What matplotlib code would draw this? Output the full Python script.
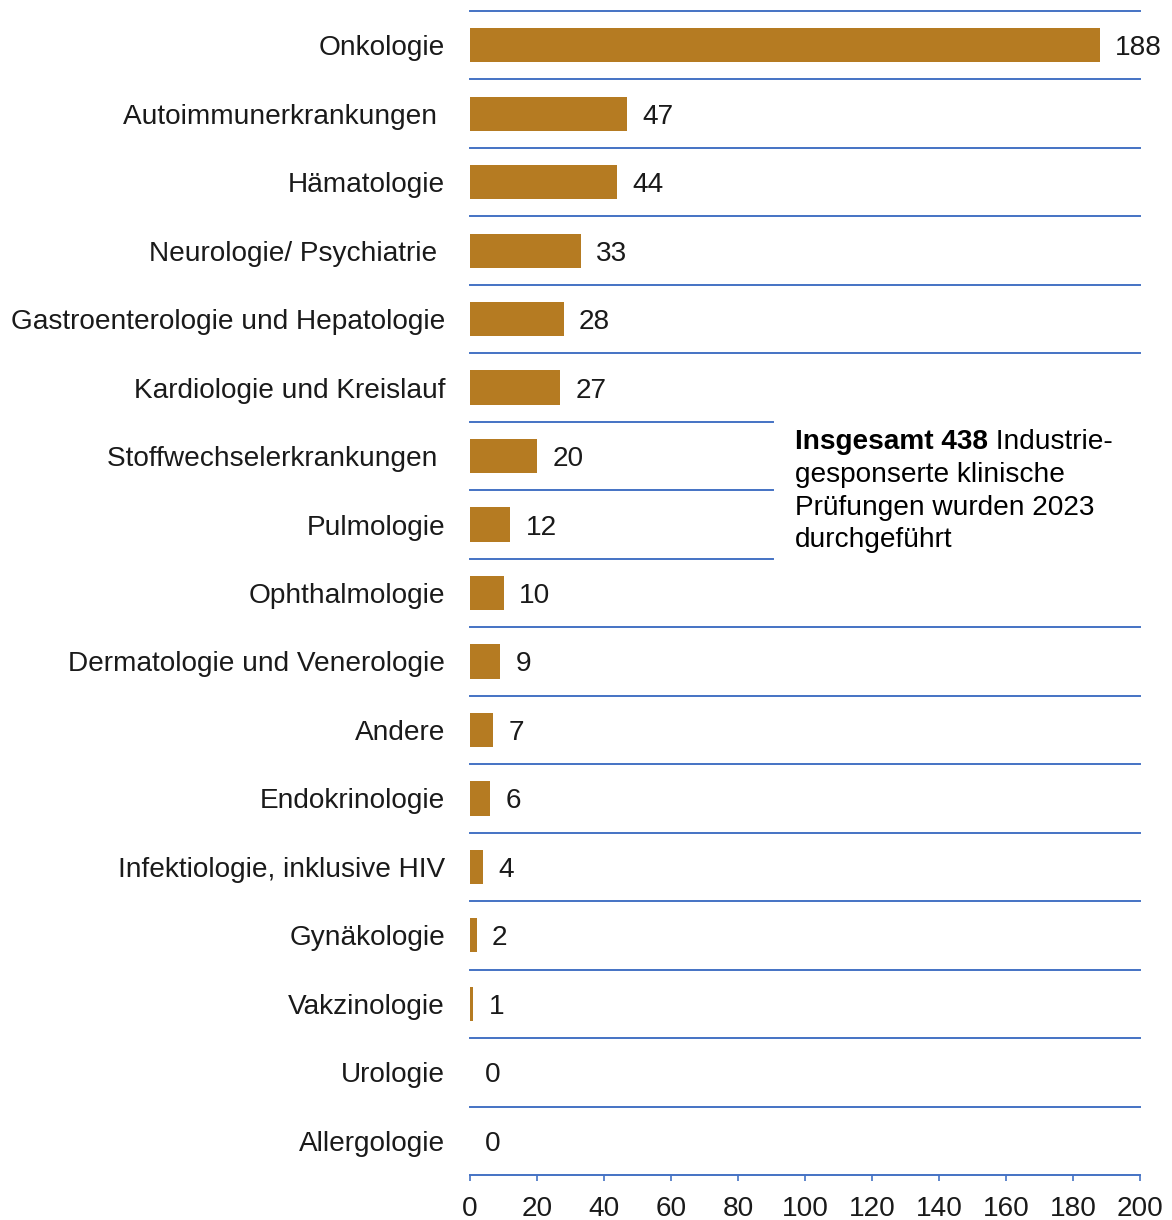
import matplotlib.pyplot as plt

plt.rcParams['font.family'] = ['Liberation Sans', 'DejaVu Sans']

# Daten
kategorien = ['Onkologie', 'Autoimmunerkrankungen ', 'Hämatologie', 'Neurologie/ Psychiatrie ',
              'Gastroenterologie und Hepatologie', 'Kardiologie und Kreislauf',
              'Stoffwechselerkrankungen ', 'Pulmologie', 'Ophthalmologie',
              'Dermatologie und Venerologie', 'Andere', 'Endokrinologie',
              'Infektiologie, inklusive HIV', 'Gynäkologie', 'Vakzinologie', 'Urologie',
              'Allergologie']
werte = [188, 47, 44, 33, 28, 27, 20, 12, 10, 9, 7, 6, 4, 2, 1, 0, 0]
x_ticks = [0, 20, 40, 60, 80, 100, 120, 140, 160, 180, 200]
kasten_zeilen = ['gesponserte klinische', 'Prüfungen wurden 2023', 'durchgeführt']

bar_color = '#B57B22'
line_color = '#4472C4'
text_color = '#1a1a1a'
fs = 20.2

fig = plt.figure(figsize=(11.72, 12.2), dpi=100)
ax = fig.add_axes([470 / 1172, 1 - 1175 / 1220, 670 / 1172, 1164 / 1220])

pos = list(range(len(kategorien)))
ax.barh(pos, werte, height=0.5, color=bar_color, zorder=3)

# Werte rechts neben den Balken
for p, w in zip(pos, werte):
    ax.annotate(str(w), xy=(w, p), xytext=(11, 0), textcoords='offset points',
                va='center_baseline', ha='left', fontsize=fs, color=text_color)

# Trennlinien zwischen den Kategorien (kürzer neben dem Textkasten)
for k in range(len(kategorien)):
    xmax = 90.5 if k in (6, 7, 8) else 200
    ax.plot([0, xmax], [k - 0.5, k - 0.5], color=line_color, lw=1.4, clip_on=False, zorder=2)

ax.set_xlim(0, 200)
ax.set_ylim(len(kategorien) - 0.5, -0.5)
ax.set_xticks(x_ticks)
ax.set_yticks(pos)
ax.set_yticklabels(kategorien, fontsize=fs, color=text_color, va='center_baseline')
ax.tick_params(axis='y', length=0, pad=18)
ax.tick_params(axis='x', direction='out', length=4, width=1.2, color=line_color,
               pad=11, labelsize=fs, labelcolor=text_color)

for s in ['top', 'right', 'left']:
    ax.spines[s].set_visible(False)
ax.spines['bottom'].set_color(line_color)
ax.spines['bottom'].set_linewidth(1.4)

# Textkasten
t1 = ax.text(97, 5.894, 'Insgesamt 438', fontsize=fs, fontweight='bold', color='black',
             va='baseline', ha='left')
ax.annotate(' Industrie-', xy=(1, 0), xycoords=t1, va='bottom', ha='left',
            fontsize=fs, color='black')
for zeile, y in zip(kasten_zeilen, [6.376, 6.858, 7.325]):
    ax.text(97, y, zeile, fontsize=fs, color='black', va='baseline', ha='left')

fig.savefig('out.png', dpi=100)
